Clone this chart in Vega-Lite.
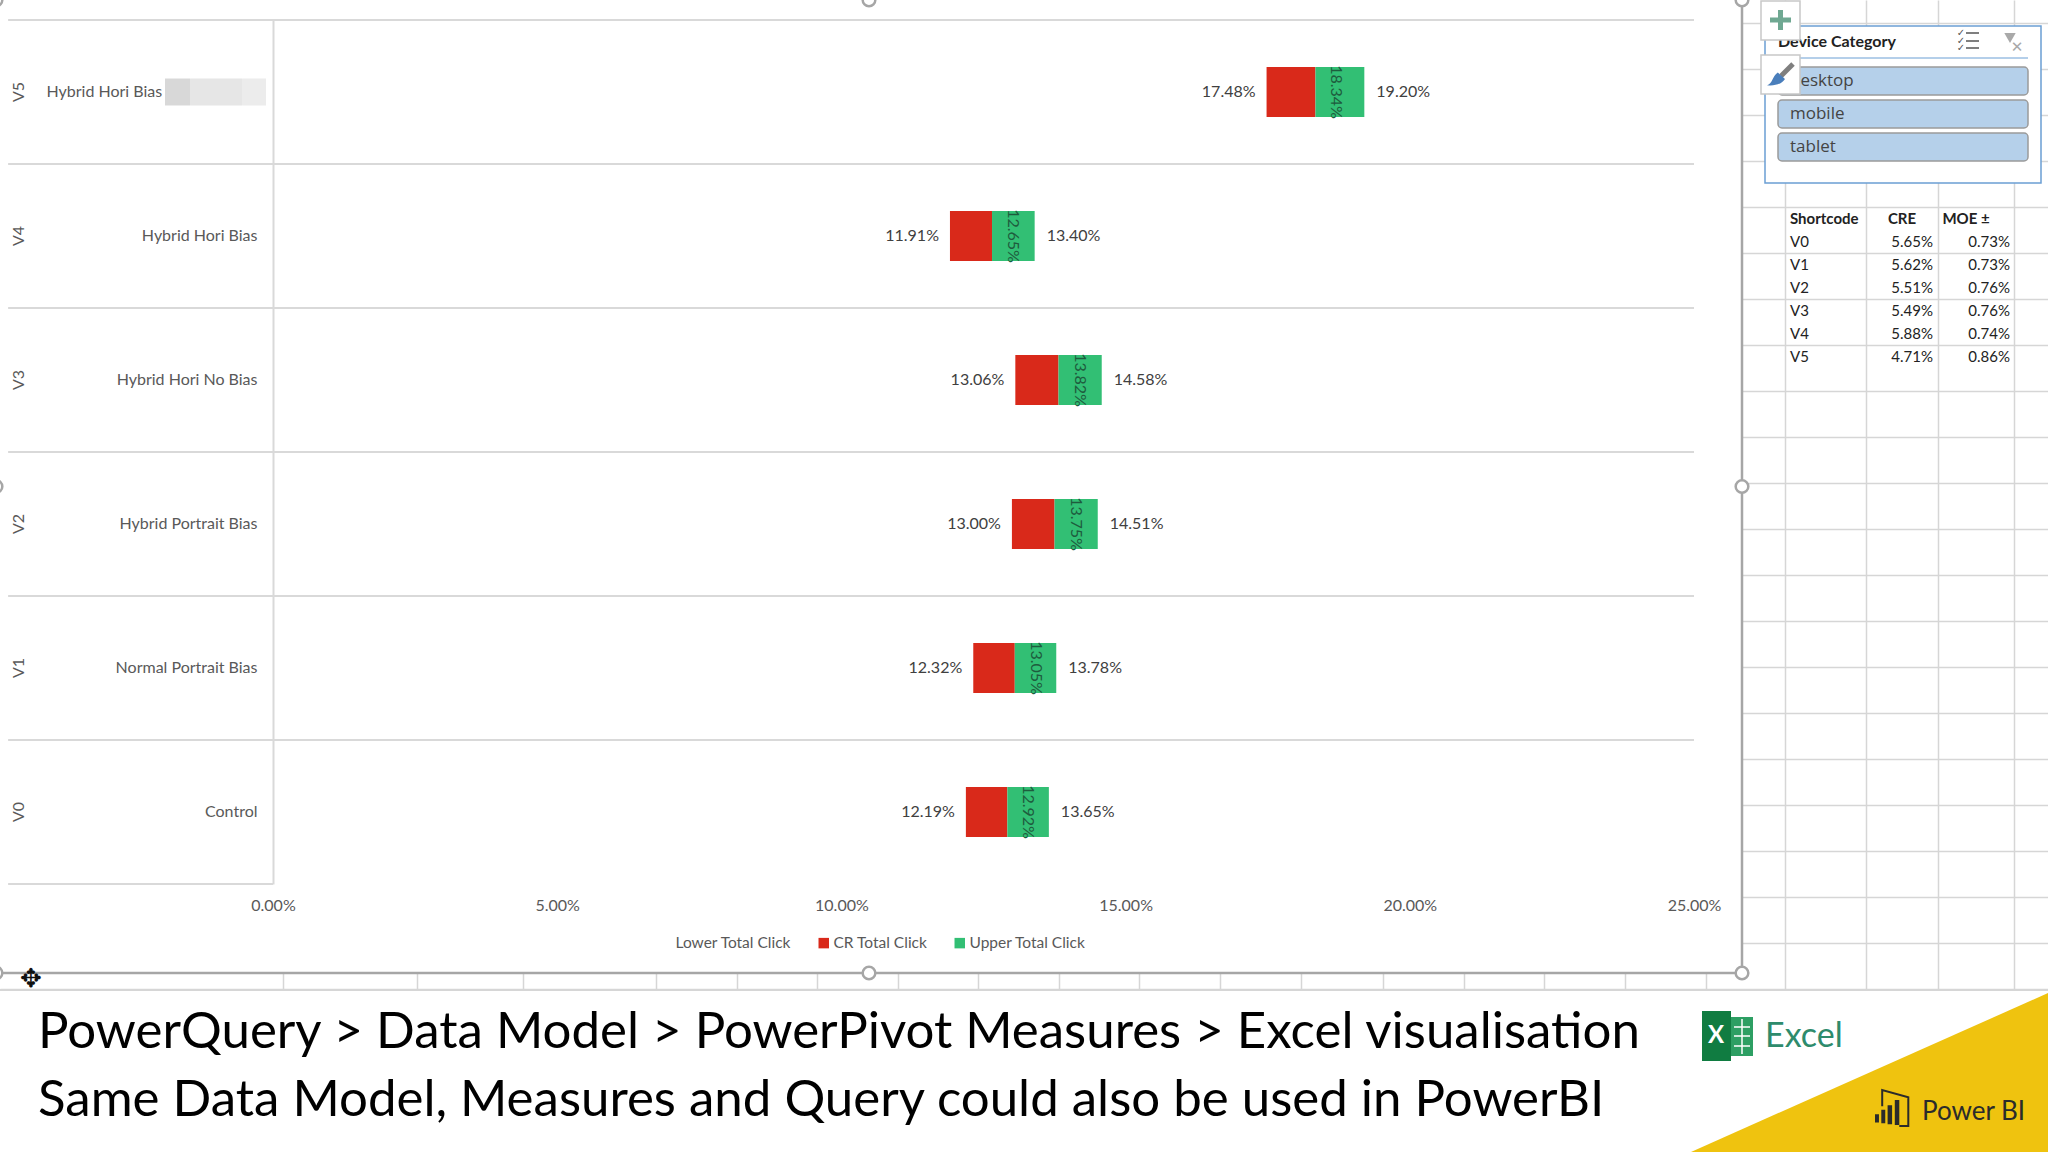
{"$schema":"https://vega.github.io/schema/vega-lite/v6.json","width":2048,"height":1152,"padding":0,"autosize":"none","background":"white","config":{"axis":{"labels":false,"ticks":false,"domain":false,"grid":false,"title":null,"titleOpacity":0},"view":{"stroke":null},"text":{"font":"Lato"}},
"datasets":{
"rows":[{"code":"V5","name":"Hybrid Hori Bias","lower":0.1748,"cr":0.1834,"upper":0.192},{"code":"V4","name":"Hybrid Hori Bias","lower":0.1191,"cr":0.1265,"upper":0.134},{"code":"V3","name":"Hybrid Hori No Bias","lower":0.1306,"cr":0.1382,"upper":0.1458},{"code":"V2","name":"Hybrid Portrait Bias","lower":0.13,"cr":0.1375,"upper":0.1451},{"code":"V1","name":"Normal Portrait Bias","lower":0.1232,"cr":0.1305,"upper":0.1378},{"code":"V0","name":"Control","lower":0.1219,"cr":0.1292,"upper":0.1365}],
"bars":[{"code":"V5","series":"Lower Total Click","from":0,"to":0.1748},{"code":"V5","series":"CR Total Click","from":0.1748,"to":0.1834},{"code":"V5","series":"Upper Total Click","from":0.1834,"to":0.192},{"code":"V4","series":"Lower Total Click","from":0,"to":0.1191},{"code":"V4","series":"CR Total Click","from":0.1191,"to":0.1265},{"code":"V4","series":"Upper Total Click","from":0.1265,"to":0.134},{"code":"V3","series":"Lower Total Click","from":0,"to":0.1306},{"code":"V3","series":"CR Total Click","from":0.1306,"to":0.1382},{"code":"V3","series":"Upper Total Click","from":0.1382,"to":0.1458},{"code":"V2","series":"Lower Total Click","from":0,"to":0.13},{"code":"V2","series":"CR Total Click","from":0.13,"to":0.1375},{"code":"V2","series":"Upper Total Click","from":0.1375,"to":0.1451},{"code":"V1","series":"Lower Total Click","from":0,"to":0.1232},{"code":"V1","series":"CR Total Click","from":0.1232,"to":0.1305},{"code":"V1","series":"Upper Total Click","from":0.1305,"to":0.1378},{"code":"V0","series":"Lower Total Click","from":0,"to":0.1219},{"code":"V0","series":"CR Total Click","from":0.1219,"to":0.1292},{"code":"V0","series":"Upper Total Click","from":0.1292,"to":0.1365}],
"table":[{"row":"V0","cre":0.0565,"moe":0.0073},{"row":"V1","cre":0.0562,"moe":0.0073},{"row":"V2","cre":0.0551,"moe":0.0076},{"row":"V3","cre":0.0549,"moe":0.0076},{"row":"V4","cre":0.0588,"moe":0.0074},{"row":"V5","cre":0.0471,"moe":0.0086}],
"handles":[{"h":"left","v":"top"},{"h":"centre","v":"top"},{"h":"right","v":"top"},{"h":"left","v":"middle"},{"h":"right","v":"middle"},{"h":"left","v":"bottom"},{"h":"centre","v":"bottom"},{"h":"right","v":"bottom"}],
"one":[{"item":"decor"}]},
"resolve":{"scale":{"x":"independent","y":"independent","color":"independent"}},
"layer":[
{"data":{"name":"one"},"layer":[
{"mark":{"type":"rect","fill":"white"},"encoding":{"x":{"datum":0,"scale":{"domain":[0,2048],"range":[0,2048],"nice":false,"zero":false},"axis":{"title":null,"labels":false,"ticks":false,"domain":false,"grid":true,"gridColor":"#d6d6d6","gridWidth":1.5,"values":[283,417,523,656,737,817,898,978,1059,1139,1220,1301,1383,1464,1544,1625,1706,1785,1866,1938,2014]}},"x2":{"datum":1742},"y":{"datum":0,"scale":{"domain":[0,1152],"range":[0,1152],"nice":false,"zero":false},"axis":{"title":null,"labels":false,"ticks":false,"domain":false,"grid":true,"gridColor":"#d6d6d6","gridWidth":1.5,"values":[23,46,69,92,115,138,161,184,207,230,253,276,299,322,345,368,391,414,437,460,483,506,529,552,575,598,621,644,667,690,713,736,759,782,805,828,851,874,897,920,943,966,989]}},"y2":{"datum":973}}},
{"mark":{"type":"rect","fill":"white"},"encoding":{"x":{"datum":0},"x2":{"datum":2048},"y":{"datum":991},"y2":{"datum":1152}}},
{"mark":{"type":"rule","color":"#d6d6d6","strokeWidth":2},"encoding":{"x":{"datum":0},"x2":{"datum":2048},"y":{"datum":990}}},
{"mark":{"type":"rule","color":"#a6a6a6","strokeWidth":2.5},"encoding":{"x":{"datum":0},"x2":{"datum":1742},"y":{"datum":973}}},
{"mark":{"type":"rule","color":"#a6a6a6","strokeWidth":2.5},"encoding":{"x":{"datum":1742},"y":{"datum":0},"y2":{"datum":973}}},
{"mark":{"type":"point","filled":true,"opacity":1,"color":"#efc30f","shape":"M-1,0.445L1,-0.445L1,0.445Z","size":127449},"encoding":{"x":{"datum":1869.5},"y":{"datum":1072.5}}},
{"mark":{"type":"rect","fill":"white","stroke":"#6b9fd4","strokeWidth":1.5},"encoding":{"x":{"datum":1765},"x2":{"datum":2041},"y":{"datum":26},"y2":{"datum":183}}},
{"mark":{"type":"rule","color":"#6b9fd4","strokeWidth":1},"encoding":{"x":{"datum":1778},"x2":{"datum":2028},"y":{"datum":58}}},
{"mark":{"type":"text","text":"Device Category","align":"left","fontWeight":"bold","fontSize":16,"color":"#222222"},"encoding":{"x":{"datum":1778},"y":{"datum":42}}},
{"mark":{"type":"rect","fill":"#b5d0ea","stroke":"#9a9a9a","strokeWidth":1.5,"cornerRadius":4},"encoding":{"x":{"datum":1778},"x2":{"datum":2028},"y":{"datum":67},"y2":{"datum":95}}},
{"mark":{"type":"rect","fill":"#b5d0ea","stroke":"#9a9a9a","strokeWidth":1.5,"cornerRadius":4},"encoding":{"x":{"datum":1778},"x2":{"datum":2028},"y":{"datum":100},"y2":{"datum":128}}},
{"mark":{"type":"rect","fill":"#b5d0ea","stroke":"#9a9a9a","strokeWidth":1.5,"cornerRadius":4},"encoding":{"x":{"datum":1778},"x2":{"datum":2028},"y":{"datum":133},"y2":{"datum":161}}},
{"mark":{"type":"text","text":"desktop","align":"left","font":"Open Sans","fontSize":17,"color":"#444444"},"encoding":{"x":{"datum":1790},"y":{"datum":81}}},
{"mark":{"type":"text","text":"mobile","align":"left","font":"Open Sans","fontSize":17,"color":"#444444"},"encoding":{"x":{"datum":1790},"y":{"datum":114}}},
{"mark":{"type":"text","text":"tablet","align":"left","font":"Open Sans","fontSize":17,"color":"#444444"},"encoding":{"x":{"datum":1790},"y":{"datum":147}}},
{"mark":{"type":"rect","fill":"white","stroke":"#c8c8c8","strokeWidth":1.5},"encoding":{"x":{"datum":1761},"x2":{"datum":1800},"y":{"datum":1},"y2":{"datum":40}}},
{"mark":{"type":"rect","fill":"white","stroke":"#c8c8c8","strokeWidth":1.5},"encoding":{"x":{"datum":1761},"x2":{"datum":1800},"y":{"datum":55},"y2":{"datum":94}}},
{"mark":{"type":"rule","color":"#6fa892","strokeWidth":5},"encoding":{"x":{"datum":1770},"x2":{"datum":1791},"y":{"datum":20}}},
{"mark":{"type":"rule","color":"#6fa892","strokeWidth":5},"encoding":{"x":{"datum":1780.5},"y":{"datum":10},"y2":{"datum":30}}},
{"mark":{"type":"rule","color":"#7f7f7f","strokeWidth":5},"encoding":{"x":{"datum":1781},"x2":{"datum":1793},"y":{"datum":76},"y2":{"datum":64}}},
{"mark":{"type":"point","filled":true,"opacity":1,"color":"#4a7ebb","shape":"M-1,0.8C-0.4,0.7 -0.4,-0.2 0.2,-0.6L1,0.1C0.6,0.7 -0.2,0.9 -1,0.8Z","size":324},"encoding":{"x":{"datum":1776},"y":{"datum":78}}},
{"mark":{"type":"rule","color":"#555555","strokeWidth":1.5},"encoding":{"x":{"datum":1966},"x2":{"datum":1979},"y":{"datum":33}}},
{"mark":{"type":"rule","color":"#555555","strokeWidth":1.5},"encoding":{"x":{"datum":1966},"x2":{"datum":1979},"y":{"datum":41}}},
{"mark":{"type":"rule","color":"#555555","strokeWidth":1.5},"encoding":{"x":{"datum":1966},"x2":{"datum":1979},"y":{"datum":48}}},
{"mark":{"type":"text","text":"✓","font":"DejaVu Sans","fontSize":10,"color":"#555555"},"encoding":{"x":{"datum":1961},"y":{"datum":33}}},
{"mark":{"type":"text","text":"✓","font":"DejaVu Sans","fontSize":10,"color":"#555555"},"encoding":{"x":{"datum":1961},"y":{"datum":41}}},
{"mark":{"type":"text","text":"✓","font":"DejaVu Sans","fontSize":10,"color":"#555555"},"encoding":{"x":{"datum":1961},"y":{"datum":48}}},
{"mark":{"type":"point","filled":true,"opacity":1,"color":"#a9a9a9","shape":"triangle-down","size":130},"encoding":{"x":{"datum":2010},"y":{"datum":38}}},
{"mark":{"type":"text","text":"✕","font":"DejaVu Sans","fontSize":15,"color":"#a9a9a9"},"encoding":{"x":{"datum":2017},"y":{"datum":47}}},
{"mark":{"type":"text","text":"✥","font":"DejaVu Sans","fontSize":26,"color":"#111111"},"encoding":{"x":{"datum":31},"y":{"datum":979}}},
{"mark":{"type":"text","text":"PowerQuery > Data Model > PowerPivot Measures > Excel visualisation","align":"left","fontSize":51,"color":"#000000"},"encoding":{"x":{"datum":38},"y":{"datum":1033}}},
{"mark":{"type":"text","text":"Same Data Model, Measures and Query could also be used in PowerBI","align":"left","fontSize":51,"color":"#000000"},"encoding":{"x":{"datum":38},"y":{"datum":1101}}},
{"mark":{"type":"rect","fill":"#2d9f63"},"encoding":{"x":{"datum":1731},"x2":{"datum":1753},"y":{"datum":1017},"y2":{"datum":1056}}},
{"mark":{"type":"rect","fill":"#107c41"},"encoding":{"x":{"datum":1702},"x2":{"datum":1731},"y":{"datum":1011},"y2":{"datum":1061}}},
{"mark":{"type":"rule","color":"white","strokeWidth":1.5},"encoding":{"x":{"datum":1734},"x2":{"datum":1750},"y":{"datum":1027}}},
{"mark":{"type":"rule","color":"white","strokeWidth":1.5},"encoding":{"x":{"datum":1734},"x2":{"datum":1750},"y":{"datum":1036}}},
{"mark":{"type":"rule","color":"white","strokeWidth":1.5},"encoding":{"x":{"datum":1734},"x2":{"datum":1750},"y":{"datum":1046}}},
{"mark":{"type":"rule","color":"white","strokeWidth":1.5},"encoding":{"x":{"datum":1742},"y":{"datum":1019},"y2":{"datum":1054}}},
{"mark":{"type":"text","text":"X","fontWeight":"bold","fontSize":24,"color":"white"},"encoding":{"x":{"datum":1716},"y":{"datum":1036}}},
{"mark":{"type":"text","text":"Excel","align":"left","fontSize":34,"color":"#2e8b6c"},"encoding":{"x":{"datum":1765},"y":{"datum":1037}}},
{"mark":{"type":"point","filled":true,"opacity":1,"color":"#2b2b2b","shape":"M-1,0.35h0.22v0.45h-0.22z M-0.65,0.1h0.22v0.75h-0.22z M-0.3,-0.15h0.25v1.05h-0.25z M0.1,-0.45h0.25v1.4h-0.25z","size":1296},"encoding":{"x":{"datum":1893},"y":{"datum":1108}}},
{"mark":{"type":"point","filled":false,"opacity":1,"color":"#2b2b2b","strokeWidth":2,"shape":"M-0.6,-0.1V-1L0.85,-0.6V1H0.35","size":1296},"encoding":{"x":{"datum":1893},"y":{"datum":1108}}},
{"mark":{"type":"text","text":"Power BI","align":"left","fontSize":26,"color":"#2b2b2b"},"encoding":{"x":{"datum":1922},"y":{"datum":1112}}}
]},
{"layer":[
{"data":{"name":"bars"},"mark":{"type":"bar","size":50},"encoding":{
"x":{"field":"from","type":"quantitative","scale":{"domain":[0,0.25],"range":[273,1694],"nice":false,"zero":false},"axis":{"title":null,"orient":"bottom","offset":-257,"values":[0,0.05,0.1,0.15,0.2,0.25],"format":".2%","labels":true,"domain":false,"ticks":false,"grid":false,"labelPadding":2,"labelFont":"Lato","labelFontSize":16,"labelColor":"#595959","labelFlush":false,"labelOverlap":false,"zindex":1}},
"x2":{"field":"to"},
"y":{"field":"code","type":"nominal","sort":null,"scale":{"type":"band","domain":["V5","V4","V3","V2","V1","V0"],"range":[20,884],"paddingInner":0,"paddingOuter":0},"axis":{"title":null,"orient":"left","offset":-273,"labels":true,"domain":true,"domainColor":"#d9d9d9","domainWidth":2,"ticks":false,"grid":false,"labelPadding":16,"labelLimit":400,"labelFont":"Lato","labelFontSize":16,"labelColor":"#595959","labelAngle":0,"labelExpr":"{'V5':'','V4':'Hybrid Hori Bias','V3':'Hybrid Hori No Bias','V2':'Hybrid Portrait Bias','V1':'Normal Portrait Bias','V0':'Control'}[datum.value]","zindex":1}},
"color":{"field":"series","type":"nominal","scale":{"domain":["Lower Total Click","CR Total Click","Upper Total Click"],"range":["transparent","#d9291a","#32bf74"]},"legend":{"orient":"none","legendX":658,"legendY":935,"direction":"horizontal","columns":3,"title":null,"symbolType":"square","symbolSize":110,"symbolStrokeWidth":0,"labelFont":"Lato","labelFontSize":15.5,"labelColor":"#595959","columnPadding":24,"labelOffset":2}}}},
{"data":{"name":"rows"},"mark":{"type":"rule","color":"#d9d9d9","strokeWidth":2},"encoding":{"x":{"datum":-0.0466},"x2":{"datum":0.25},"y":{"field":"code","type":"nominal","bandPosition":0}}},
{"data":{"name":"one"},"mark":{"type":"rule","color":"#d9d9d9","strokeWidth":2},"encoding":{"x":{"datum":-0.0466},"x2":{"datum":0},"y":{"datum":"V0","bandPosition":1}}},
{"data":{"name":"one"},"mark":{"type":"bar","size":27,"color":"#d8d8d8"},"encoding":{"x":{"datum":-0.019},"x2":{"datum":-0.0146},"y":{"datum":"V5"}}},
{"data":{"name":"one"},"mark":{"type":"bar","size":27,"color":"#e6e6e6"},"encoding":{"x":{"datum":-0.0146},"x2":{"datum":-0.00545},"y":{"datum":"V5"}}},
{"data":{"name":"one"},"mark":{"type":"bar","size":27,"color":"#ececec"},"encoding":{"x":{"datum":-0.00545},"x2":{"datum":-0.00123},"y":{"datum":"V5"}}},
{"data":{"name":"rows"},"transform":[{"filter":"datum.code==='V5'"}],"mark":{"type":"text","align":"right","fontSize":16,"color":"#595959"},"encoding":{"x":{"datum":-0.0195},"y":{"field":"code","type":"nominal"},"text":{"field":"name"}}},
{"data":{"name":"rows"},"mark":{"type":"text","angle":270,"fontSize":16,"color":"#595959"},"encoding":{"x":{"datum":-0.0447},"y":{"field":"code","type":"nominal"},"text":{"field":"code"}}},
{"data":{"name":"rows"},"mark":{"type":"text","align":"right","dx":-11,"fontSize":16,"color":"#404040"},"encoding":{"x":{"field":"lower","type":"quantitative"},"y":{"field":"code","type":"nominal"},"text":{"field":"lower","type":"quantitative","format":".2%"}}},
{"data":{"name":"rows"},"mark":{"type":"text","align":"left","dx":12,"fontSize":16,"color":"#404040"},"encoding":{"x":{"field":"upper","type":"quantitative"},"y":{"field":"code","type":"nominal"},"text":{"field":"upper","type":"quantitative","format":".2%"}}},
{"data":{"name":"rows"},"mark":{"type":"text","angle":90,"xOffset":21,"fontSize":16,"color":"#1e5c3e"},"encoding":{"x":{"field":"cr","type":"quantitative"},"y":{"field":"code","type":"nominal"},"text":{"field":"cr","type":"quantitative","format":".2%"}}}
]},
{"data":{"name":"table"},"layer":[
{"mark":{"type":"text","align":"left","fontSize":15,"color":"#222222"},"encoding":{"x":{"datum":1790,"scale":{"domain":[0,2048],"range":[0,2048],"nice":false,"zero":false}},"y":{"field":"row","type":"nominal","scale":{"type":"band","domain":["Shortcode","V0","V1","V2","V3","V4","V5"],"range":[207,368],"paddingInner":0,"paddingOuter":0}},"text":{"field":"row"}}},
{"mark":{"type":"text","align":"right","fontSize":15,"color":"#222222"},"encoding":{"x":{"datum":1933},"y":{"field":"row","type":"nominal"},"text":{"field":"cre","type":"quantitative","format":".2%"}}},
{"mark":{"type":"text","align":"right","fontSize":15,"color":"#222222"},"encoding":{"x":{"datum":2010},"y":{"field":"row","type":"nominal"},"text":{"field":"moe","type":"quantitative","format":".2%"}}},
{"data":{"name":"one"},"mark":{"type":"text","text":"Shortcode","align":"left","fontWeight":"bold","fontSize":15,"color":"#222222"},"encoding":{"x":{"datum":1790},"y":{"datum":"Shortcode"}}},
{"data":{"name":"one"},"mark":{"type":"text","text":"CRE","fontWeight":"bold","fontSize":15,"color":"#222222"},"encoding":{"x":{"datum":1902},"y":{"datum":"Shortcode"}}},
{"data":{"name":"one"},"mark":{"type":"text","text":"MOE ±","fontWeight":"bold","fontSize":15,"color":"#222222"},"encoding":{"x":{"datum":1966},"y":{"datum":"Shortcode"}}}
]},
{"data":{"name":"handles"},"mark":{"type":"point","filled":true,"opacity":1,"fill":"white","stroke":"#a6a6a6","strokeWidth":2.5,"size":160},"encoding":{"x":{"field":"h","type":"ordinal","scale":{"type":"point","domain":["left","centre","right"],"range":[-4,1742],"padding":0}},"y":{"field":"v","type":"ordinal","scale":{"type":"point","domain":["top","middle","bottom"],"range":[0,973],"padding":0}}}}
]}
